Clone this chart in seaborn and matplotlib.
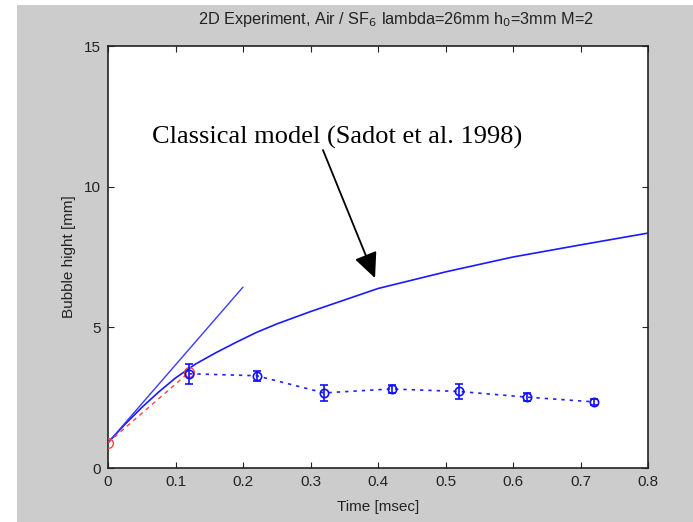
import matplotlib
matplotlib.use("Agg")
import matplotlib.pyplot as plt
from matplotlib.patches import Rectangle
import numpy as np
import pandas as pd
import seaborn as sns

# Classical model (Sadot et al. 1998)
model_t = [0, 0.025, 0.05, 0.075, 0.1, 0.13, 0.16, 0.19, 0.22, 0.25, 0.3, 0.35, 0.4, 0.5, 0.6, 0.7, 0.8]
model_h = [0.9, 1.55, 2.15, 2.7, 3.2, 3.7, 4.1, 4.47, 4.82, 5.12, 5.56, 5.97, 6.38, 6.97, 7.5, 7.93, 8.35]

# Linear (early-time) growth
linear_t = [0.0, 0.2]
linear_h = [0.9, 6.43]

# Measured bubble height with error bars
exp_t = [0.12, 0.22, 0.32, 0.42, 0.52, 0.62, 0.72]
exp_h = [3.35, 3.28, 2.67, 2.81, 2.72, 2.52, 2.35]
exp_err = [0.35, 0.18, 0.28, 0.14, 0.26, 0.15, 0.12]

# Initial amplitude to first measurement
init_t = [0.0, 0.12]
init_h = [0.9, 3.4]

x_ticks = [0, 0.1, 0.2, 0.3, 0.4, 0.5, 0.6, 0.7, 0.8]
x_labels = ["0", "0.1", "0.2", "0.3", "0.4", "0.5", "0.6", "0.7", "0.8"]
y_ticks = [0, 5, 10, 15]

sns.set_theme(style="ticks")
plt.rcParams["font.family"] = ["Liberation Sans", "DejaVu Sans"]

W, H = 693, 522
fig = plt.figure(figsize=(W / 100, H / 100), dpi=100, facecolor="white")
fig.patches.append(Rectangle((17 / W, 0), 1 - 17 / W, (H - 5) / H,
                             transform=fig.transFigure, facecolor="#cccccc",
                             edgecolor="none", zorder=-10))
ax = fig.add_axes([108 / W, (H - 468) / H, (648 - 108) / W, (468 - 46) / H])
ax.set_facecolor("white")

model_df = pd.DataFrame({"t": model_t, "h": model_h})
linear_df = pd.DataFrame({"t": linear_t, "h": linear_h})
init_df = pd.DataFrame({"t": init_t, "h": init_h})

sns.lineplot(data=model_df, x="t", y="h", ax=ax, color="#1a1aff", lw=1.2, zorder=3)
sns.lineplot(data=linear_df, x="t", y="h", ax=ax, color="#3a3aff", lw=1.0, zorder=3)
sns.lineplot(data=init_df, x="t", y="h", ax=ax, color="#ff4040", lw=1.0,
             linestyle=(0, (3, 3)), marker="o", markersize=7,
             markerfacecolor="none", markeredgecolor="#ff4040", mew=1.0, zorder=4)

ax.errorbar(exp_t, exp_h, yerr=exp_err, fmt="o", ms=6, mfc="none", mec="#1010ff",
            mew=1.2, ecolor="#1010ff", elinewidth=1.2, capsize=3, capthick=1.2, zorder=5)
sns.lineplot(x=exp_t, y=exp_h, ax=ax, color="#2020ff", lw=1.2,
             linestyle=(0, (2, 3)), zorder=4)

ax.set_xlim(0, 0.8)
ax.set_ylim(0, 15)
ax.set_xticks(x_ticks)
ax.set_xticklabels(x_labels)
ax.set_yticks(y_ticks)
ax.tick_params(direction="in", length=4, width=0.8, colors="#222222",
               labelsize=11, top=True, right=True, pad=5)
for s in ax.spines.values():
    s.set_color("#222222")
    s.set_linewidth(1.2)

ax.set_xlabel("Time [msec]", fontsize=11, color="#222222", labelpad=8)
ax.set_ylabel("Bubble hight [mm]", fontsize=11, color="#222222", labelpad=6)
ax.set_title(r"2D Experiment, Air / SF$_6$ lambda=26mm h$_0$=3mm M=2",
             fontsize=11.7, color="#222222", pad=16, x=0.533)

ax.text(0.065, 11.35, "Classical model (Sadot et al. 1998)",
        fontsize=19, family=["Liberation Serif", "DejaVu Serif"], color="black",
        ha="left", va="bottom")
ax.annotate("", xy=(0.3956, 6.75), xytext=(0.3185, 11.3),
            arrowprops=dict(arrowstyle="-|>,head_length=1.3,head_width=0.6",
                            color="black", lw=1.3, shrinkA=0, shrinkB=0))

fig.savefig("out.png", dpi=100, facecolor=fig.get_facecolor())
